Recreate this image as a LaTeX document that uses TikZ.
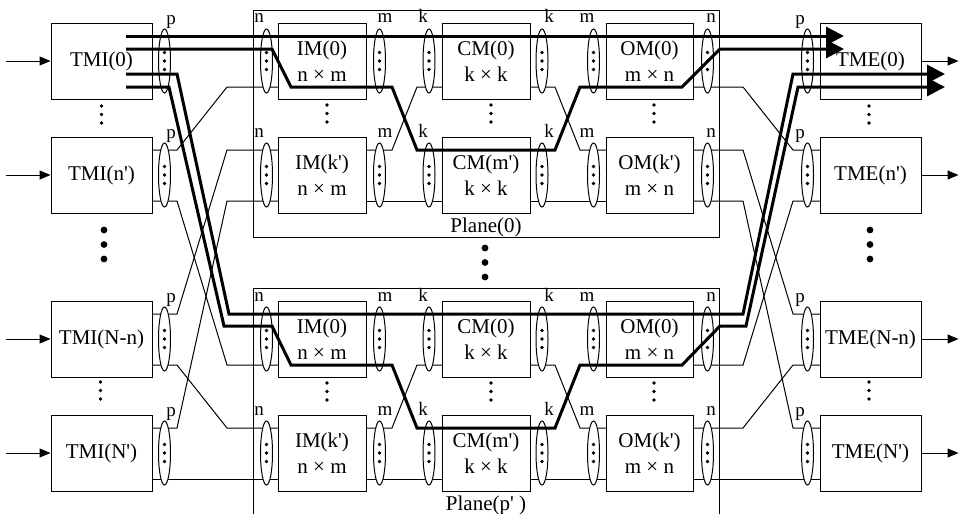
\documentclass[tikz,border=0pt]{standalone}
\usepackage{fontspec}
\setmainfont{Liberation Serif}[Ligatures=TeXOff]
\usetikzlibrary{arrows.meta,shapes.geometric}
\tikzset{
  box/.style={draw, line width=1pt, fill=white, inner sep=0pt, align=center,
    font=\fontsize{21}{26}\selectfont},
  oval/.style={ellipse, draw, fill=white, line width=1pt, inner sep=0pt,
    minimum width=12pt, minimum height=64pt},
  lab/.style={anchor=base, inner sep=0pt, font=\fontsize{19}{21}\selectfont},
  plab/.style={anchor=base, inner sep=0pt, font=\fontsize{21}{24}\selectfont},
  thin/.style={line width=1pt},
  thk/.style={line width=3pt},
  frame/.style={line width=1pt},
  inarrow/.style={line width=1pt, -{Triangle[length=11pt,width=9pt]}},
  bigarrow/.style={line width=3pt, -{Triangle[length=18pt,width=18pt]}},
}
\newcommand{\mkbox}[5]{%
  \node[box, minimum width={#4pt-#2pt}, minimum height=76pt] (#1) at ({(#2+#4)/2},{#3+38}) {#5};
  \coordinate (#1-tw) at (#2,{#3+13});
  \coordinate (#1-bw) at (#2,{#3+64});
  \coordinate (#1-te) at (#4,{#3+13});
  \coordinate (#1-be) at (#4,{#3+64});
}
\newcommand{\mkoval}[3]{%
  \node[oval] (#1) at (#2,#3) {};
  \fill (#2,{#3-8.5}) circle[radius=1.9] (#2,#3) circle[radius=1.9] (#2,{#3+8.5}) circle[radius=1.9];
}
\newcommand{\smalldots}[2]{%
  \fill (#1,#2) circle[radius=1.9] (#1,{#2+8.5}) circle[radius=1.9] (#1,{#2+17}) circle[radius=1.9];
}
\newcommand{\bigdots}[2]{%
  \fill (#1,#2) circle[radius=3.4] (#1,{#2+14.5}) circle[radius=3.4] (#1,{#2+29}) circle[radius=3.4];
}
\begin{document}
\begin{tikzpicture}[x=1pt,y=-1pt]
\useasboundingbox (0,0) rectangle (962,514);

% plane frames
\draw[frame] (253,10) rectangle (719,237);
\draw[frame] (253,520) -- (253,288) -- (719,288) -- (719,520);
\node[plab] (pl0) at (486,232) {Plane(0)};
\node[plab] (pl1) at (486,510) {Plane(p' )};

% TMI and TME boxes
\mkbox{tmi0}{51}{23}{152}{TMI(0)}
\mkbox{tmin}{51}{137}{152}{TMI(n')}
\mkbox{tminn}{51}{301}{152}{TMI(N-n)}
\mkbox{tmiN}{51}{415}{152}{TMI(N')}
\mkbox{tme0}{820}{23}{921}{TME(0)}
\mkbox{tmen}{820}{137}{921}{TME(n')}
\mkbox{tmenn}{820}{301}{921}{TME(N-n)}
\mkbox{tmeN}{820}{415}{921}{TME(N')}

% plane modules
\foreach \P/\o in {0/0,1/278}{
  \mkbox{imA\P}{278}{23+\o}{366}{IM(0)\\n × m}
  \mkbox{imB\P}{278}{137+\o}{366}{IM(k')\\n × m}
  \mkbox{cmA\P}{442}{23+\o}{530}{CM(0)\\k × k}
  \mkbox{cmB\P}{442}{137+\o}{530}{CM(m')\\k × k}
  \mkbox{omA\P}{606}{23+\o}{693}{OM(0)\\m × n}
  \mkbox{omB\P}{606}{137+\o}{693}{OM(k')\\m × n}
}

% input / output arrows
\foreach \b in {tmi0,tmin,tminn,tmiN}{
  \draw[inarrow] ([xshift=-45pt]\b.west) -- (\b.west);
}
\foreach \b in {tme0,tmen,tmenn,tmeN}{
  \draw[inarrow] (\b.east) -- ([xshift=37pt]\b.east);
}

% thin connectors: TMI -> planes
\draw[thin] (tmin-te) -- ++(25,0) -- ([xshift=-51pt]imA0-bw) -- (imA0-bw);
\draw[thin] (tmin-be) -- ++(25,0) -- ([xshift=-51pt]imA1-bw) -- (imA1-bw);
\draw[thin] (tminn-te) -- ++(25,0) -- ([xshift=-51pt]imB0-tw) -- (imB0-tw);
\draw[thin] (tminn-be) -- ++(25,0) -- ([xshift=-51pt]imB1-tw) -- (imB1-tw);
\draw[thin] (tmiN-te) -- ++(25,0) -- ([xshift=-51pt]imB0-bw) -- (imB0-bw);
\draw[thin] (tmiN-be) -- (imB1-bw);

% thin connectors inside planes
\foreach \P in {0,1}{
  \draw[thin] (imA\P-te) -- (cmA\P-tw);
  \draw[thin] (imA\P-be) -- ++(26,0) -- ([xshift=-25pt]cmB\P-tw) -- (cmB\P-tw);
  \draw[thin] (imB\P-te) -- ++(26,0) -- ([xshift=-25pt]cmA\P-bw) -- (cmA\P-bw);
  \draw[thin] (imB\P-be) -- (cmB\P-bw);
  \draw[thin] (cmA\P-te) -- (omA\P-tw);
  \draw[thin] (cmA\P-be) -- ++(25,0) -- ([xshift=-26pt]omB\P-tw) -- (omB\P-tw);
  \draw[thin] (cmB\P-te) -- ++(25,0) -- ([xshift=-26pt]omA\P-bw) -- (omA\P-bw);
  \draw[thin] (cmB\P-be) -- (omB\P-bw);
}

% thin connectors: planes -> TME
\draw[thin] (omA0-be) -- ++(50,0) -- ([xshift=-27pt]tmen-tw) -- (tmen-tw);
\draw[thin] (omA1-be) -- ++(50,0) -- ([xshift=-27pt]tmen-bw) -- (tmen-bw);
\draw[thin] (omB0-te) -- ++(50,0) -- ([xshift=-27pt]tmenn-tw) -- (tmenn-tw);
\draw[thin] (omB1-te) -- ++(50,0) -- ([xshift=-27pt]tmenn-bw) -- (tmenn-bw);
\draw[thin] (omB0-be) -- ++(50,0) -- ([xshift=-27pt]tmeN-tw) -- (tmeN-tw);
\draw[thin] (omB1-be) -- (tmeN-bw);

% ellipses (bundles)
\foreach \r/\y in {a/61,b/175,c/339,d/453}{
  \mkoval{pi\r}{164.5}{\y}
  \mkoval{po\r}{807.5}{\y}
}
\foreach \P/\o in {0/0,1/278}{
  \foreach \r/\y in {a/61,b/175}{
    \mkoval{en\r\P}{266.5}{\y+\o}
    \mkoval{em\r\P}{379.5}{\y+\o}
    \mkoval{ek\r\P}{429}{\y+\o}
    \mkoval{fk\r\P}{542}{\y+\o}
    \mkoval{fm\r\P}{593.5}{\y+\o}
    \mkoval{fn\r\P}{707.5}{\y+\o}
  }
}

% thick highlighted paths
\draw[bigarrow] ([xshift=-26pt]tmi0-te) -- ([xshift=24pt]tme0-tw);
\draw[bigarrow, line join=miter] (126,49) -- (272,49) -- (291,87) -- (392,87) -- (417,150)
  -- (555,150) -- (580,87) -- (682,87) -- (720,49) -- ([xshift=24pt,yshift=-13pt]tme0-tw);
\draw[bigarrow, line join=miter] (126,74) -- (177,74) -- (229,314) -- (743,314) -- (793,74)
  -- ([xshift=24pt,yshift=13pt]tme0-be);
\draw[bigarrow, line join=miter] ([xshift=-26pt]tmi0-be) -- (169,87) -- (224,326) -- (272,326)
  -- (291,365) -- (392,365) -- (417,428) -- (555,428) -- (580,365) -- (682,365) -- (720,326)
  -- (746,326) -- (798,87) -- ([xshift=24pt]tme0-be);

% bundle size labels
\foreach \y in {24,138,302,416}{
  \node[lab] at (171,\y) {p};
  \node[lab] at (800,\y) {p};
}
\foreach \y in {23,137,301,415}{
  \node[lab] at (259,\y) {n};
  \node[lab] at (385,\y) {m};
  \node[lab] at (423,\y) {k};
  \node[lab] at (549,\y) {k};
  \node[lab] at (587,\y) {m};
  \node[lab] at (711,\y) {n};
}

% continuation dots
\smalldots{101.5}{106}
\bigdots{104}{230}
\smalldots{100.5}{382}
\smalldots{869}{106}
\bigdots{870}{230}
\smalldots{869}{382}
\bigdots{485}{248}
\foreach \o in {0,278}{
  \smalldots{327}{105+\o}
  \smalldots{491}{105+\o}
  \smalldots{654}{105+\o}
}
\end{tikzpicture}
\end{document}
